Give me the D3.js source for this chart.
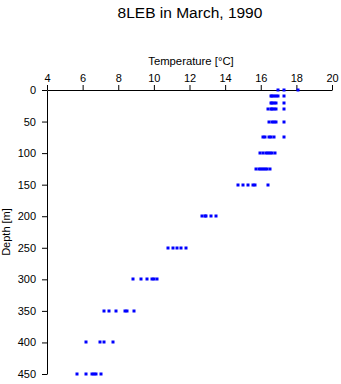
<!DOCTYPE html>
<html><head><meta charset="utf-8">
<script src="https://cdn.jsdelivr.net/npm/d3@7"></script>
<style>body{margin:0;background:#fff}svg{display:block}text{font-family:"Liberation Sans",Arial,sans-serif;fill:#000}</style>
</head><body><div id="c"></div>
<script>
const title = "8LEB in March, 1990";
const xLabel = "Temperature [°C]";
const yLabel = "Depth [m]";
const xTicks = [4, 6, 8, 10, 12, 14, 16, 18, 20];
const yTicks = [0, 50, 100, 150, 200, 250, 300, 350, 400, 450];
const depths = [0, 10, 20, 30, 50, 75, 100, 125, 150, 200, 250, 300, 350, 400, 450];
const temps = [
  [16.98, 17.31, 18.1],
  [16.55, 16.65, 16.75, 16.85, 16.95, 17.3],
  [16.55, 16.65, 16.75, 16.85, 17.3],
  [16.42, 16.55, 16.65, 16.75, 16.85, 17.3],
  [16.45, 16.65, 16.75, 16.87, 17.3],
  [16.15, 16.25, 16.47, 16.6, 16.72, 17.3],
  [15.97, 16.1, 16.27, 16.4, 16.52, 16.65, 16.78],
  [15.75, 15.88, 16.0, 16.12, 16.25, 16.33, 16.52],
  [14.75, 15.0, 15.28, 15.58, 15.7, 16.42],
  [12.72, 12.85, 12.95, 13.22, 13.5],
  [10.8, 11.05, 11.3, 11.53, 11.81],
  [8.8, 9.3, 9.62, 9.88, 10.0, 10.15],
  [7.2, 7.48, 7.9, 8.37, 8.5, 8.89],
  [6.21, 7.0, 7.19, 7.71],
  [5.71, 6.21, 6.5, 6.62, 6.75, 7.02]
];

const W = 341, H = 384;
const svg = d3.select("#c").append("svg").attr("width", W).attr("height", H);
const x = d3.scaleLinear().domain([4, 20]).range([47, 332]);
const y = d3.scaleLinear().domain([0, 450]).range([90, 374]);

const points = [];
depths.forEach((d, i) => temps[i].forEach(t => points.push({d, t})));

svg.append("g").attr("transform", "translate(0,90)")
  .call(d3.axisTop(x).tickValues(xTicks).tickSize(5).tickSizeOuter(0).tickPadding(3))
  .call(g => g.selectAll("text").attr("font-size", 11).style("font-family", "Liberation Sans, Arial, sans-serif"));
svg.append("g").attr("transform", "translate(47,0)")
  .call(d3.axisLeft(y).tickValues(yTicks).tickSize(5).tickSizeOuter(0).tickPadding(6))
  .call(g => g.selectAll("text").attr("font-size", 11).style("font-family", "Liberation Sans, Arial, sans-serif"));
svg.selectAll(".domain, .tick line").attr("stroke", "#000").attr("stroke-width", 1);

svg.append("text").attr("x", 190).attr("y", 18).attr("text-anchor", "middle").attr("font-size", 15.5).text(title);
svg.append("text").attr("x", 191).attr("y", 65).attr("text-anchor", "middle").attr("font-size", 11.3).text(xLabel);
svg.append("text").attr("transform", "translate(10,232) rotate(-90)").attr("text-anchor", "middle").attr("font-size", 11).text(yLabel);

svg.append("g").selectAll("rect").data(points).join("rect")
  .attr("x", p => Math.round(x(p.t)) - 1.5)
  .attr("y", p => Math.round(y(p.d)) - 1.5)
  .attr("width", 3).attr("height", 3)
  .attr("fill", "#0000ff");
</script></body></html>
